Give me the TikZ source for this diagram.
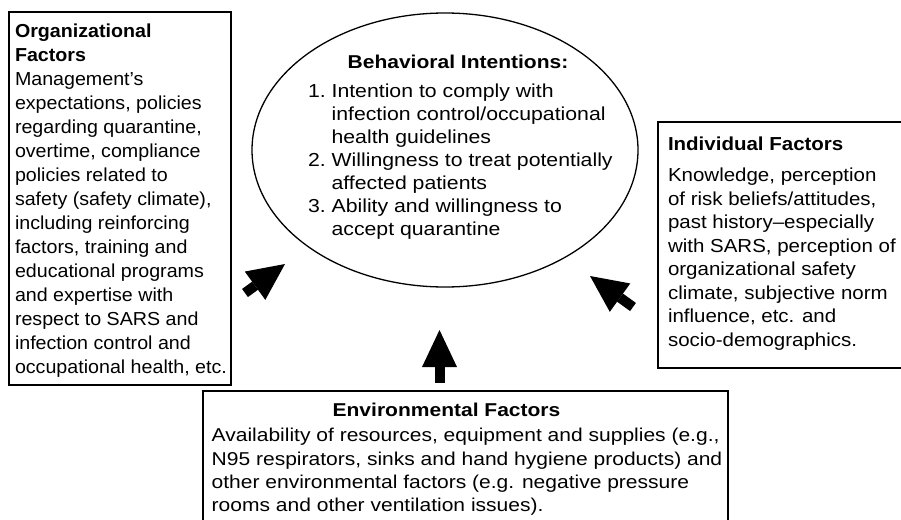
\documentclass[tikz,border=0pt]{standalone}
\usepackage{fontspec}
\setmainfont{Liberation Sans}[FakeStretch=1.13]
\newfontfamily\orgfont{Liberation Sans}[FakeStretch=1.045]
\newfontfamily\indfont{Liberation Sans}[FakeStretch=1.09]
\newfontfamily\envfont{Liberation Sans}[FakeStretch=1.13]
\usetikzlibrary{shapes.geometric,arrows.meta}
\tikzset{
  boxnode/.style={draw, line width=1.5pt, rectangle, inner sep=0pt, outer sep=0pt, anchor=north west},
  txtnode/.style={inner sep=0pt, outer sep=0pt, align=left},
  blockarrow/.style={line width=10pt, -{Triangle[length=37pt, width=35pt, line width=0pt]}},
}
\begin{document}
\begin{tikzpicture}[x=1pt, y=-1pt]
\useasboundingbox (0,0) rectangle (901,519);
\clip (0,0) rectangle (901,519);
\fill[white] (0,0) rectangle (901,519);
% boxes
\node[boxnode, minimum width=222pt, minimum height=373pt] (org) at (9,12) {};
\node[boxnode, minimum width=260pt, minimum height=246pt] (ind) at (658,122) {};
\node[boxnode, minimum width=525pt, minimum height=160pt] (env) at (203,391) {};
\node[draw, line width=1.3pt, ellipse, inner sep=0pt, minimum width=386pt, minimum height=274pt] (bi) at (445,150) {};
% texts (multi-line nodes: base = baseline of last line)
\node[txtnode, anchor=base west, font={\orgfont\fontsize{18.8}{24}\selectfont}] (orgtxt) at (15,373.7)
 {\textbf{Organizational}\\\textbf{Factors}\\Management’s\\expectations, policies\\regarding quarantine,\\overtime, compliance\\policies related to\\safety (safety climate),\\including reinforcing\\factors, training and\\educational programs\\and expertise with\\respect to SARS and\\infection control and\\occupational health, etc.};
\node[txtnode, anchor=base, font={\fontsize{18.6}{23}\selectfont\bfseries}] (bititle) at (458,68) {Behavioral Intentions:};
\node[txtnode, anchor=base west, font={\fontsize{18.8}{23}\selectfont}] (bitxt) at (308,235)
 {1.\ Intention to comply with\\\phantom{1.\ }infection control/occupational\\\phantom{1.\ }health guidelines\\2.\ Willingness to treat potentially\\\phantom{2.\ }affected patients\\3.\ Ability and willingness to\\\phantom{3.\ }accept quarantine};
\node[txtnode, anchor=base west, font={\indfont\fontsize{18.8}{23.5}\selectfont\bfseries}] (indtitle) at (668,150) {Individual Factors};
\node[txtnode, anchor=base west, font={\indfont\fontsize{18.8}{23.5}\selectfont}] (indtxt) at (668,346.2)
 {Knowledge, perception\\of risk beliefs/attitudes,\\past history–especially\\with SARS, perception of\\organizational safety\\climate, subjective norm\\influence, etc. and\\socio-demographics.};
\node[txtnode, anchor=base, font={\envfont\fontsize{18.6}{23.3}\selectfont\bfseries}] (envtitle) at (446.5,416.7) {Environmental Factors};
\node[txtnode, anchor=base west, font={\envfont\fontsize{18.6}{23.3}\selectfont}] (envtxt) at (211.7,511.6)
 {Availability of resources, equipment and supplies (e.g.,\\N95 respirators, sinks and hand hygiene products) and\\other environmental factors (e.g. negative pressure\\rooms and other ventilation issues).};
% arrows
\coordinate (a1t) at (245,293);
\coordinate (a1h) at (285,264);
\coordinate (a2t) at (633,307);
\coordinate (a2h) at (590,276);
\coordinate (a3t) at (439.5,383);
\coordinate (a3h) at (439.5,330);
\draw[blockarrow] (a1t) -- (a1h);
\draw[blockarrow] (a2t) -- (a2h);
\draw[blockarrow] (a3t) -- (a3h);
\end{tikzpicture}
\end{document}
